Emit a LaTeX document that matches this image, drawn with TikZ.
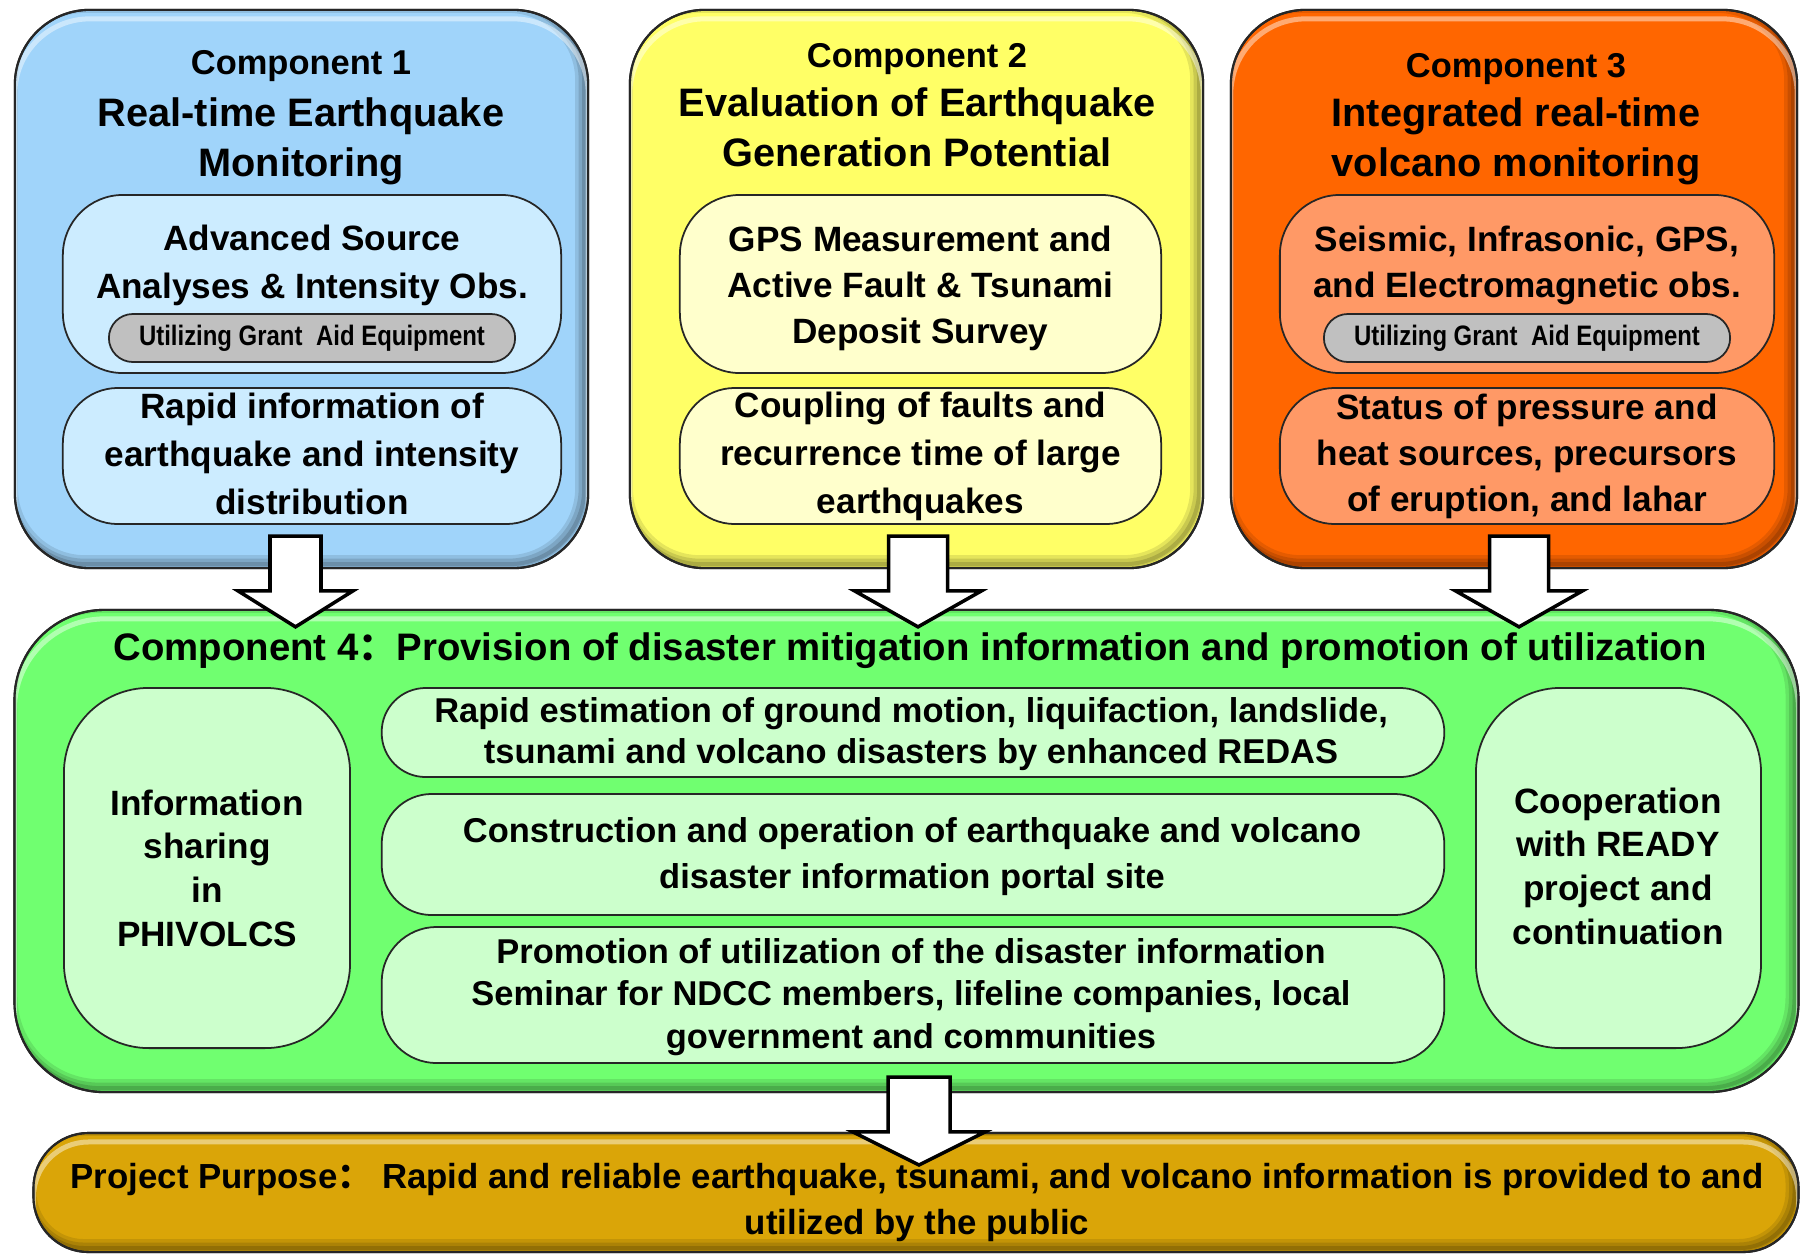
\documentclass[tikz,border=0pt]{standalone}
\usepackage{fontspec}
\setmainfont{Liberation Sans}
\newfontfamily\narrowfont{Liberation Sans}[FakeStretch=0.85]
\newfontfamily\cjkfont{Noto Sans CJK SC}
\usetikzlibrary{calc}

\definecolor{blueouter}{RGB}{160,212,250}
\definecolor{blueinner}{RGB}{204,236,255}
\definecolor{yellowouter}{RGB}{255,255,102}
\definecolor{yellowinner}{RGB}{255,255,204}
\definecolor{orangeouter}{RGB}{255,102,0}
\definecolor{orangeinner}{RGB}{255,153,102}
\definecolor{greenouter}{RGB}{112,255,112}
\definecolor{greeninner}{RGB}{204,255,204}
\definecolor{goldouter}{RGB}{218,165,8}
\definecolor{pillgrey}{RGB}{192,192,192}

\tikzset{
  outerbox/.style={draw=black!85, line width=0.6pt, outer sep=0pt, inner sep=0pt},
  innerbox/.style={draw=black!85, line width=0.5pt, outer sep=0pt, inner sep=0pt},
  pillbox/.style={innerbox, fill=pillgrey, rounded corners=0.24cm,
    font=\narrowfont\bfseries\fontsize{8}{9}\selectfont},
  % multi-line text nodes are placed by the baseline of their last line
  titletext/.style={anchor=base, align=center, inner sep=0pt,
    font=\bfseries\fontsize{11.3}{14}\selectfont},
  bodytext/.style={anchor=base, align=center, inner sep=0pt,
    font=\bfseries\fontsize{10}{13.6}\selectfont},
  blockarr/.style={draw=black, fill=white, line width=1pt, line join=miter},
}

% darker rim at the lower right and a light band along the top of a box
\newcommand\bevel[2]{%
  \begin{scope}
    \clip[rounded corners=#2] (#1.north west) rectangle (#1.south east);
    \draw[black, opacity=0.10, line width=0.16cm, rounded corners=#2]
      ($(#1.north west)+(-5,-5)$) rectangle ($(#1.south east)+(-5,-5)$);
    \draw[black, opacity=0.12, line width=0.09cm, rounded corners=#2]
      ($(#1.north west)+(-5,-5)$) rectangle ($(#1.south east)+(-5,-5)$);
    \draw[black, opacity=0.14, line width=0.04cm, rounded corners=#2]
      ($(#1.north west)+(-4,-4)$) rectangle ($(#1.south east)+(-4,-4)$);
    \draw[white, opacity=0.45, line width=0.05cm, rounded corners=#2]
      ($(#1.north west)+(0,9)$) rectangle ($(#1.south east)+(0,9)$);
  \end{scope}
  \draw[black!85, line width=0.6pt, rounded corners=#2]
    (#1.north west) rectangle (#1.south east);
}

% white block arrow from #1 down to the tip #2
\newcommand\blockarrow[5]{%
  \draw[blockarr] ($(#1)+(-#3/2,0)$) -- ($(#1)+(#3/2,0)$)
    -- ($(#2)+(#3/2,-#5)$) -- ($(#2)+(#4/2,-#5)$) -- (#2)
    -- ($(#2)+(-#4/2,-#5)$) -- ($(#2)+(-#3/2,-#5)$) -- cycle;
}

\begin{document}
\begin{tikzpicture}[x=0.01cm, y=-0.01cm]
\useasboundingbox (0,0) rectangle (1800,1254);

% ---- the three component boxes ----
\node[outerbox, fill=blueouter, rounded corners=0.75cm,
  minimum width=5.73cm, minimum height=5.58cm] (c1) at (301.5,289) {};
\bevel{c1}{0.75cm}
\node[outerbox, fill=yellowouter, rounded corners=0.75cm,
  minimum width=5.73cm, minimum height=5.58cm] (c2) at (916.5,289) {};
\bevel{c2}{0.75cm}
\node[outerbox, fill=orangeouter, rounded corners=0.75cm,
  minimum width=5.66cm, minimum height=5.58cm] (c3) at (1514,289) {};
\bevel{c3}{0.75cm}

% ---- component 4 and the project purpose ----
\node[outerbox, fill=greenouter, rounded corners=0.9cm,
  minimum width=17.83cm, minimum height=4.82cm] (c4) at (906.5,851) {};
\bevel{c4}{0.9cm}
\node[outerbox, fill=goldouter, rounded corners=0.55cm,
  minimum width=17.64cm, minimum height=1.19cm] (p) at (916,1192.5) {};
\bevel{p}{0.55cm}

% ---- titles ----
\node[titletext] (t1) at (301,176)
  {{\fontsize{9.8}{14}\selectfont Component 1}\\[1pt]Real-time Earthquake\\Monitoring};
\node[titletext] (t2) at (917,166)
  {{\fontsize{9.8}{14}\selectfont Component 2}\\Evaluation of Earthquake\\Generation Potential};
\node[titletext] (t3) at (1516,176)
  {{\fontsize{9.8}{14}\selectfont Component 3}\\Integrated real-time\\volcano monitoring};

% ---- component 1 contents ----
\node[innerbox, fill=blueinner, rounded corners=0.6cm,
  minimum width=4.98cm, minimum height=1.78cm] (a1) at (312,284) {};
\node[bodytext] (a1t) at (312,298) {Advanced Source\\Analyses \& Intensity Obs.};
\node[pillbox, minimum width=4.06cm, minimum height=0.48cm] (g1) at (312,338)
  {Utilizing Grant\kern0.25em\ Aid Equipment};
\node[innerbox, fill=blueinner, rounded corners=0.55cm,
  minimum width=4.98cm, minimum height=1.36cm] (a2) at (312,456) {};
\node[bodytext] (a2t) at (312,514)
  {Rapid information of\\earthquake and intensity\\distribution};

% ---- component 2 contents ----
\node[innerbox, fill=yellowinner, rounded corners=0.6cm,
  minimum width=4.81cm, minimum height=1.78cm] (b1) at (920.5,284) {};
\node[bodytext, font=\bfseries\fontsize{10}{13}\selectfont] (b1t) at (920.5,343)
  {GPS Measurement and\\Active Fault \& Tsunami\\Deposit Survey};
\node[innerbox, fill=yellowinner, rounded corners=0.55cm,
  minimum width=4.81cm, minimum height=1.36cm] (b2) at (920.5,456) {};
\node[bodytext] (b2t) at (920.5,513)
  {Coupling of faults and\\recurrence time of large\\earthquakes};

% ---- component 3 contents ----
\node[innerbox, fill=orangeinner, rounded corners=0.6cm,
  minimum width=4.94cm, minimum height=1.78cm] (d1) at (1527,284) {};
\node[bodytext, font=\bfseries\fontsize{10}{13}\selectfont] (d1t) at (1527,297)
  {Seismic, Infrasonic, GPS,\\and Electromagnetic obs.};
\node[pillbox, minimum width=4.06cm, minimum height=0.48cm] (g3) at (1527,338)
  {Utilizing Grant\kern0.25em\ Aid Equipment};
\node[innerbox, fill=orangeinner, rounded corners=0.55cm,
  minimum width=4.94cm, minimum height=1.36cm] (d2) at (1527,456) {};
\node[bodytext, font=\bfseries\fontsize{10}{13}\selectfont] (d2t) at (1527,511)
  {Status of pressure and\\heat sources, precursors\\of eruption, and lahar};

% ---- component 4 contents ----
\node[bodytext, font=\bfseries\fontsize{10.9}{13}\selectfont] (t4) at (910,660)
  {Component 4{\cjkfont\bfseries ：}Provision of disaster mitigation information and promotion of utilization};

\node[innerbox, fill=greeninner, rounded corners=0.85cm,
  minimum width=2.86cm, minimum height=3.60cm] (i1) at (207,868) {};
\node[bodytext, font=\bfseries\fontsize{10}{12.4}\selectfont] (i1t) at (207,946)
  {Information\\sharing\\in\\PHIVOLCS};

\node[innerbox, fill=greeninner, rounded corners=0.44cm,
  minimum width=10.62cm, minimum height=0.89cm] (m1) at (913,732.5) {};
\node[bodytext, font=\bfseries\fontsize{9.8}{11.4}\selectfont] (m1t) at (911,763)
  {Rapid estimation of ground motion, liquifaction, landslide,\\tsunami and volcano disasters by enhanced REDAS};
\node[innerbox, fill=greeninner, rounded corners=0.5cm,
  minimum width=10.62cm, minimum height=1.21cm] (m2) at (913,854.5) {};
\node[bodytext, font=\bfseries\fontsize{9.8}{13}\selectfont] (m2t) at (912,888)
  {Construction and operation of earthquake and volcano\\disaster information portal site};
\node[innerbox, fill=greeninner, rounded corners=0.55cm,
  minimum width=10.62cm, minimum height=1.36cm] (m3) at (913,995) {};
\node[bodytext, font=\bfseries\fontsize{9.8}{12}\selectfont] (m3t) at (911,1048)
  {Promotion of utilization of the disaster information\\Seminar for NDCC members, lifeline companies, local\\government and communities};

\node[innerbox, fill=greeninner, rounded corners=0.85cm,
  minimum width=2.85cm, minimum height=3.60cm] (r1) at (1618.5,868) {};
\node[bodytext, font=\bfseries\fontsize{10}{12.4}\selectfont] (r1t) at (1618,944)
  {Cooperation\\with READY\\project and\\continuation};

% ---- project purpose text ----
\node[bodytext, font=\bfseries\fontsize{9.9}{13}\selectfont] (pt) at (917,1234)
  {Project Purpose{\cjkfont\bfseries ：} Rapid and reliable earthquake, tsunami, and volcano information is provided to and\\utilized by the public};

% ---- block arrows ----
\coordinate (s1) at ($(c1.south)+(-6,-32)$);
\path (s1 |- c4.north) ++(0,17) coordinate (e1);
\coordinate (s2) at ($(c2.south)+(1.5,-32)$);
\path (s2 |- c4.north) ++(0,17) coordinate (e2);
\coordinate (s3) at ($(c3.south)+(5,-32)$);
\path (s3 |- c4.north) ++(0,17) coordinate (e3);
\coordinate (s4) at ($(c4.south)+(12.5,-15)$);
\path (s4 |- p.north) ++(0,32) coordinate (e4);

\blockarrow{s1}{e1}{51}{115}{36}
\blockarrow{s2}{e2}{59}{127}{36}
\blockarrow{s3}{e3}{59}{127}{36}
\blockarrow{s4}{e4}{62}{132}{33}
\end{tikzpicture}
\end{document}
